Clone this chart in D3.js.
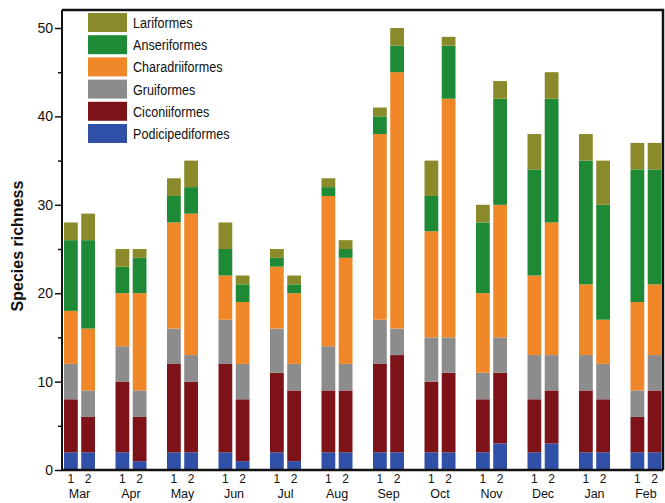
<!DOCTYPE html>
<html>
<head>
<meta charset="utf-8">
<script src="https://cdn.jsdelivr.net/npm/d3@7"></script>
<style>
  body { margin: 0; background: #fff; }
  text { font-family: "Liberation Sans Narrow", "Arial Narrow", "Liberation Sans", sans-serif; }
  .ylab { font-weight: bold; font-size: 16px; }
</style>
</head>
<body>
<svg id="chart"></svg>
<script>
const months = ["Mar","Apr","May","Jun","Jul","Aug","Sep","Oct","Nov","Dec","Jan","Feb"];
const periods = ["1","2"];
const orders = ["Podicipediformes","Ciconiiformes","Gruiformes","Charadriiformes","Anseriformes","Lariformes"];
const colors = ["#3050a8","#7d1318","#8c8c8c","#f0882a","#1f8a35","#8b8a2a"];

// species per order, bar order: Mar1, Mar2, Apr1, Apr2, ...
const podicipediformes = [2,2, 2,1, 2,2, 2,1, 2,1, 2,2, 2,2, 2,2, 2,3, 2,3, 2,2, 2,2];
const ciconiiformes    = [6,4, 8,5, 10,8, 10,7, 9,8, 7,7, 10,11, 8,9, 6,8, 6,6, 7,6, 4,7];
const gruiformes       = [4,3, 4,3, 4,3, 5,4, 5,3, 5,3, 5,3, 5,4, 3,4, 5,4, 4,4, 3,4];
const charadriiformes  = [6,7, 6,11, 12,16, 5,7, 7,8, 17,12, 21,29, 12,27, 9,15, 9,15, 8,5, 10,8];
const anseriformes     = [8,10, 3,4, 3,3, 3,2, 1,1, 1,1, 2,3, 4,6, 8,12, 12,14, 14,13, 15,13];
const lariformes       = [2,3, 2,1, 2,3, 3,1, 1,1, 1,1, 1,2, 4,1, 2,2, 4,3, 3,5, 3,3];

const seriesValues = [podicipediformes, ciconiiformes, gruiformes, charadriiformes, anseriformes, lariformes];

const yTicks = [0,10,20,30,40,50];

const W = 665, H = 503;
const mLeft = 62, mRight = 663, mTop = 10, mBottom = 470;

const svg = d3.select("#chart").attr("width", W).attr("height", H);

const rows = [];
months.forEach((m, mi) => {
  periods.forEach((p, pi) => {
    const r = { month: m, period: p };
    orders.forEach((o, oi) => r[o] = seriesValues[oi][mi * 2 + pi]);
    rows.push(r);
  });
});

const stacked = d3.stack().keys(orders)(rows);

const y = d3.scaleLinear().domain([0, 50]).range([mBottom, 28]);
const x0 = d3.scaleBand().domain(months).range([53.75, 671.75]);
const pairW = 31;
const x1 = d3.scaleBand().domain(periods).range([0, pairW]).paddingInner(0.2);
const color = d3.scaleOrdinal().domain(orders).range(colors);

const barX = d => x0(d.data.month) + (x0.step() - pairW) / 2 + x1(d.data.period);

svg.append("g")
   .selectAll("g")
   .data(stacked)
   .enter()
   .append("g")
   .attr("fill", s => color(s.key))
   .selectAll("rect")
   .data(s => s)
   .enter()
   .append("rect")
   .attr("x", barX)
   .attr("width", x1.bandwidth())
   .attr("y", d => y(d[1]))
   .attr("height", d => y(d[0]) - y(d[1]));

// frame: top + right borders
svg.append("path")
   .attr("d", `M${mLeft},${mTop}H${mRight}V${mBottom}`)
   .attr("fill", "none")
   .attr("stroke", "#111")
   .attr("stroke-width", 2.5);

// y axis
const yAxis = svg.append("g")
   .attr("transform", `translate(${mLeft},0)`)
   .call(d3.axisLeft(y).tickValues(yTicks).tickSize(7).tickPadding(2))
   .call(g => g.select(".domain").remove());
yAxis.selectAll("text").attr("font-size", 14).attr("fill", "#111")
   .style("font-family", '"Liberation Sans Narrow", "Liberation Sans", sans-serif');
yAxis.selectAll("line").attr("stroke", "#111").attr("stroke-width", 1.5);

svg.append("g")
   .attr("transform", `translate(${mLeft},0)`)
   .call(d3.axisLeft(y).tickValues([5,15,25,35,45]).tickSize(4).tickFormat(""))
   .call(g => g.select(".domain").remove())
   .selectAll("line").attr("stroke", "#111").attr("stroke-width", 1.5);

svg.append("line")
   .attr("x1", mLeft).attr("x2", mLeft)
   .attr("y1", mTop).attr("y2", mBottom + 1)
   .attr("stroke", "#111").attr("stroke-width", 2);

svg.append("line")
   .attr("x1", mLeft - 1).attr("x2", mRight)
   .attr("y1", mBottom).attr("y2", mBottom)
   .attr("stroke", "#111").attr("stroke-width", 2.5);

// x labels
const xl = svg.append("g");
rows.forEach(r => {
  xl.append("text")
    .attr("x", x0(r.month) + (x0.step() - pairW) / 2 + x1(r.period) + x1.bandwidth() / 2)
    .attr("y", 483)
    .attr("text-anchor", "middle")
    .attr("font-size", 12)
    .attr("fill", "#111")
    .text(r.period);
});
months.forEach(m => {
  xl.append("text")
    .attr("x", x0(m) + x0.step() / 2)
    .attr("y", 498)
    .attr("text-anchor", "middle")
    .attr("font-size", 12.5)
    .attr("fill", "#111")
    .text(m);
});

svg.append("text")
   .attr("class", "ylab")
   .attr("transform", "translate(23,246) rotate(-90)")
   .attr("text-anchor", "middle")
   .attr("fill", "#111")
   .text("Species richness");

// legend, top entry first
const legendOrder = orders.slice().reverse();
const lg = svg.append("g").attr("transform", "translate(88,13)");
legendOrder.forEach((o, i) => {
  lg.append("rect")
    .attr("x", 0).attr("y", i * 22.2)
    .attr("width", 39).attr("height", 19)
    .attr("fill", color(o));
  lg.append("text")
    .attr("transform", `translate(45,${i * 22.2 + 15}) scale(0.84,1)`)
    .attr("font-size", 15)
    .attr("fill", "#111")
    .text(o);
});
</script>
</body>
</html>
